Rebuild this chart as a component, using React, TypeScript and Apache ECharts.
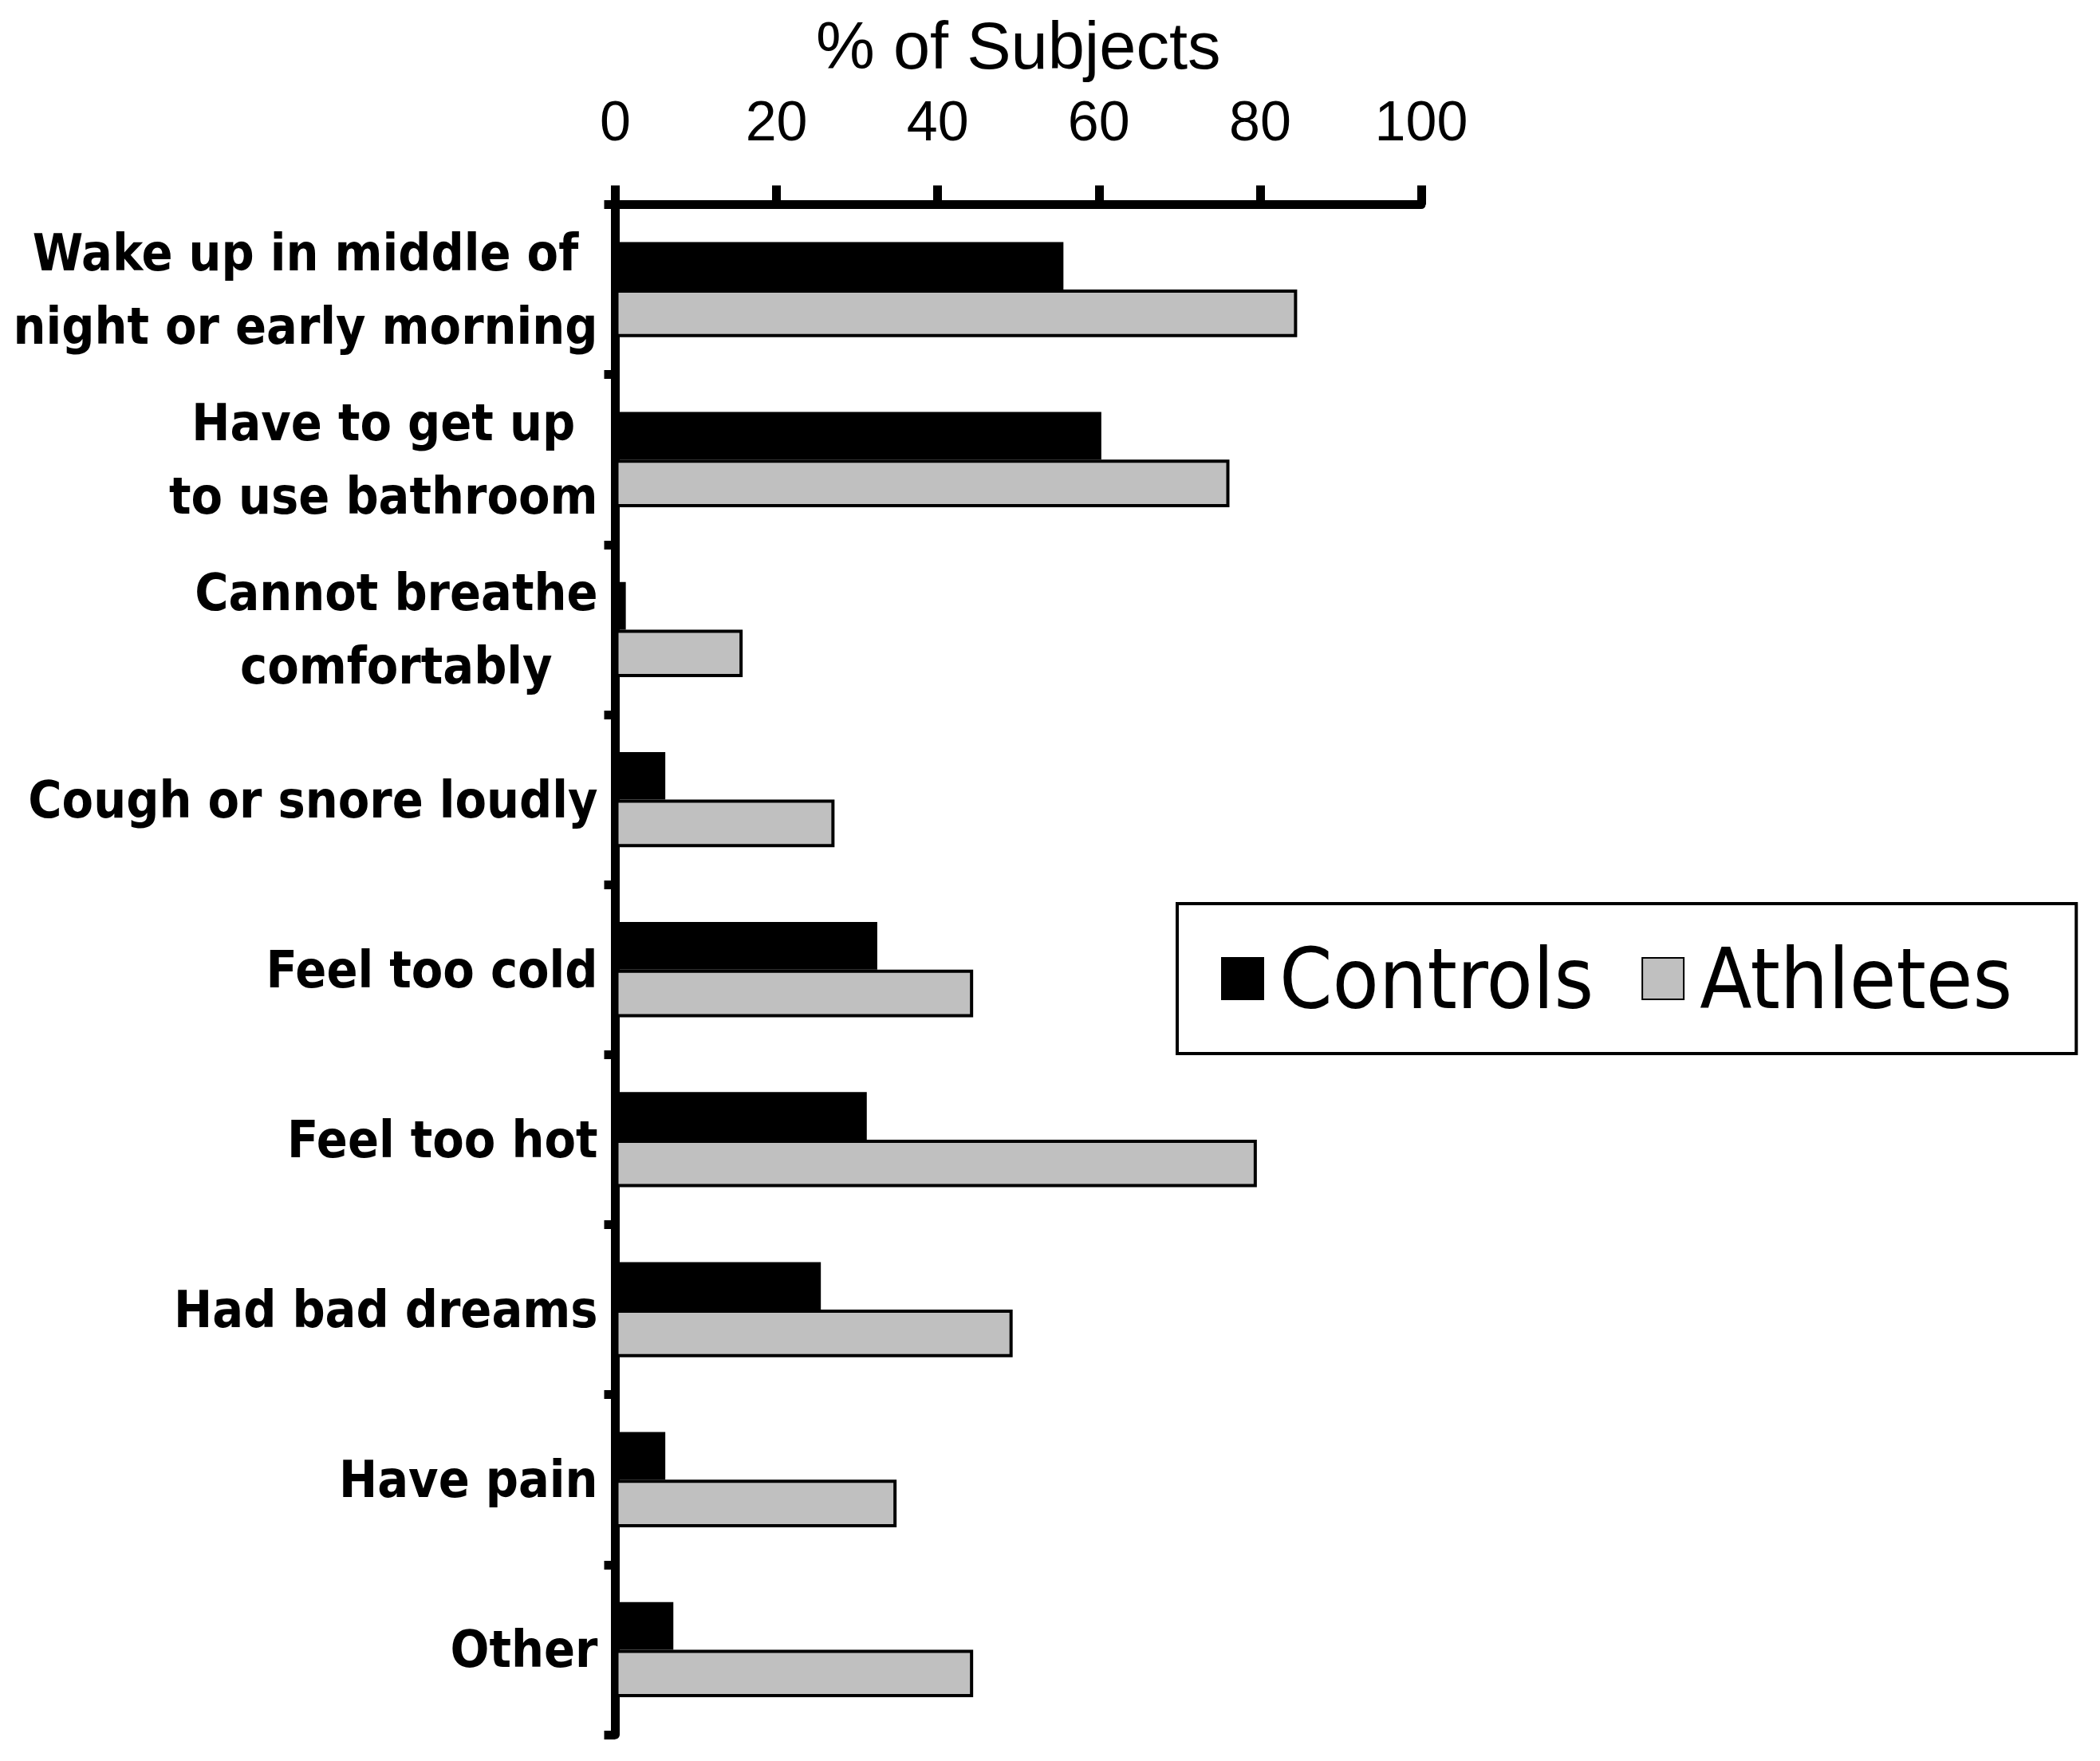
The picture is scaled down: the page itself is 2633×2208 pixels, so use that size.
import React, { useEffect, useRef } from "react";
import * as echarts from "echarts";

const categories = [
  "Wake up in middle of\nnight or early morning",
  "Have to get up\nto use bathroom",
  "Cannot breathe\ncomfortably",
  "Cough or snore loudly",
  "Feel too cold",
  "Feel too hot",
  "Had bad dreams",
  "Have pain",
  "Other",
];
const controls = [55.6, 60.3, 1.3, 6.2, 32.5, 31.2, 25.5, 6.2, 7.2];
const athletes = [84.6, 76.2, 15.8, 27.2, 44.4, 79.6, 49.3, 34.9, 44.4];
const xTicks = { min: 0, max: 100, interval: 20 };
const axisTitle = "% of Subjects";

export default function App() {
  const ref = useRef<HTMLDivElement>(null);
  useEffect(() => {
    document.body.style.margin = "0";
    const chart = echarts.init(ref.current!, null, { renderer: "svg" });
    const catFont = "'DejaVu Sans Condensed', 'DejaVu Sans', sans-serif";
    chart.setOption({
      animation: false,
      backgroundColor: "#ffffff",
      grid: { left: 771.5, top: 256.5, right: 851, bottom: 33, containLabel: false },
      legend: {
        left: 1476,
        top: 1133,
        orient: "horizontal",
        data: ["Controls", "Athletes"],
        icon: "rect",
        itemWidth: 52,
        itemHeight: 52,
        itemGap: 60,
        borderColor: "#000",
        borderWidth: 4,
        padding: [34, 80, 34, 55],
        textStyle: {
          fontFamily: catFont,
          fontSize: 106,
          lineHeight: 120,
          color: "#000",
          padding: [0, 0, 0, 15],
        },
      },
      xAxis: {
        type: "value",
        position: "top",
        min: xTicks.min,
        max: xTicks.max,
        interval: xTicks.interval,
        name: axisTitle,
        nameLocation: "middle",
        nameGap: 158,
        nameTextStyle: {
          fontFamily: "'Liberation Sans', Arial, sans-serif",
          fontSize: 83,
          color: "#000",
        },
        splitLine: { show: false },
        axisLine: { show: true, lineStyle: { color: "#000", width: 11 } },
        axisTick: { show: true, length: 24, lineStyle: { color: "#000", width: 11 } },
        axisLabel: {
          fontFamily: "'Liberation Sans', Arial, sans-serif",
          fontSize: 70,
          color: "#000",
          margin: 70,
        },
      },
      yAxis: {
        type: "category",
        inverse: true,
        data: categories,
        axisLine: { show: true, lineStyle: { color: "#000", width: 11 } },
        axisTick: { show: true, length: 14, lineStyle: { color: "#000", width: 11 } },
        axisLabel: {
          margin: 22,
          align: "right",
          formatter: (v: string) =>
            v
              .split("\n")
              .map((l) => "{c|" + l + "}")
              .join("\n"),
          rich: {
            c: {
              align: "center",
              fontFamily: catFont,
              fontWeight: "bold",
              fontSize: 64,
              lineHeight: 92,
              color: "#000",
            },
          },
        },
      },
      series: [
        {
          name: "Controls",
          type: "bar",
          data: controls,
          barGap: "0%",
          barCategoryGap: "44%",
          itemStyle: { color: "#000000", borderColor: "#000", borderWidth: 4 },
        },
        {
          name: "Athletes",
          type: "bar",
          data: athletes,
          barGap: "0%",
          barCategoryGap: "44%",
          itemStyle: { color: "#c0c0c0", borderColor: "#000", borderWidth: 4 },
        },
      ],
    });
    return () => chart.dispose();
  }, []);
  return <div ref={ref} style={{ width: 2633, height: 2208 }} />;
}
